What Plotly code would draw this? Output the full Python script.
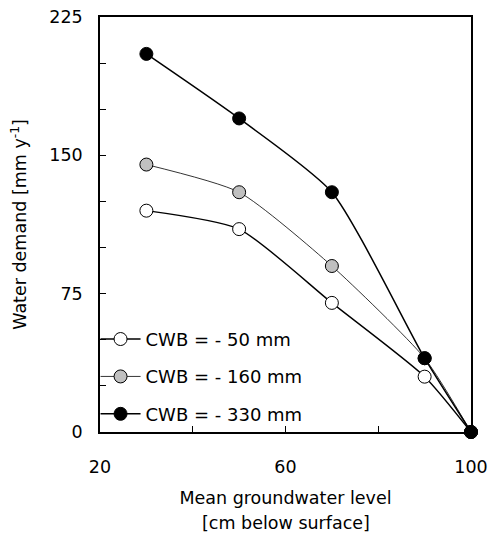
import plotly.graph_objects as go

depth = [30, 50, 70, 90, 100]
cwb_50 = [120, 110, 70, 30, 0]
cwb_160 = [145, 130, 90, 40, 0]
cwb_330 = [205, 170, 130, 40, 0]
names = ["CWB = - 50 mm", "CWB = - 160 mm", "CWB = - 330 mm"]
x_ticks = [20, 60, 100]
y_ticks = [0, 75, 150, 225]

FONT = "DejaVu Sans"

fig = go.Figure()
styles = [
    (cwb_50, "white", 1.4),
    (cwb_160, "#c0c0c0", 0.8),
    (cwb_330, "black", 1.5),
]
for i, (vals, fill, lw) in enumerate(styles):
    fig.add_trace(go.Scatter(
        x=depth, y=vals, name=names[i], mode="lines+markers",
        legendgroup=f"g{i}",
        line=dict(color="black", width=lw, shape="spline", smoothing=0.6),
        marker=dict(size=13, color=fill, line=dict(color="black", width=1)),
        cliponaxis=False,
    ))

fig.add_annotation(
    text="[cm below surface]", xref="paper", yref="paper",
    x=0.5, y=0, yshift=-91, xanchor="center", yanchor="middle",
    showarrow=False, font=dict(size=17.5),
)

fig.update_layout(
    width=489, height=534,
    margin=dict(l=100, r=18, t=17, b=102),
    paper_bgcolor="white", plot_bgcolor="white",
    font=dict(family=FONT, size=17.5, color="black"),
    showlegend=True,
    legend=dict(
        x=-0.012, y=-0.002, xanchor="left", yanchor="bottom",
        bgcolor="rgba(0,0,0,0)", font=dict(size=18),
        tracegroupgap=11, itemwidth=40,
    ),
    xaxis=dict(
        range=[20, 100], tickvals=x_ticks, ticks="inside", ticklen=6,
        tickcolor="black", showline=True, linecolor="black", linewidth=1.5,
        mirror=True, showgrid=False, zeroline=False, automargin=False,
        minor=dict(dtick=20, tick0=20, ticks="inside", ticklen=6, tickcolor="black", showgrid=False),
        ticklabelstandoff=18,
        title=dict(text="Mean groundwater level", font=dict(size=17.5), standoff=16),
    ),
    yaxis=dict(
        range=[0, 225], tickvals=y_ticks, ticks="inside", ticklen=6,
        tickcolor="black", showline=True, linecolor="black", linewidth=1.5,
        mirror=True, showgrid=False, zeroline=False, automargin=False,
        minor=dict(dtick=25, tick0=0, ticks="inside", ticklen=6, tickcolor="black", showgrid=False),
        ticklabelstandoff=12,
        title=dict(text="Water demand [mm y<sup>-1</sup>]", font=dict(size=17.5), standoff=18),
    ),
)

fig.write_html("out.html")
